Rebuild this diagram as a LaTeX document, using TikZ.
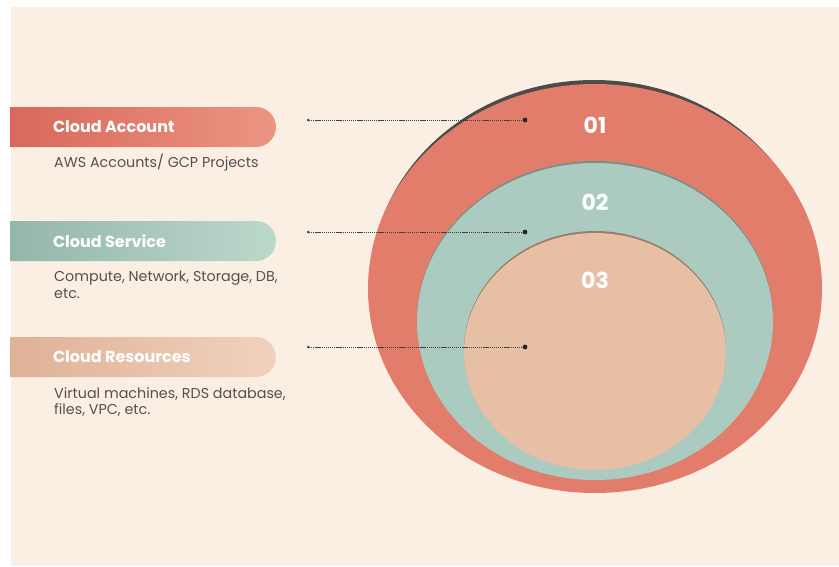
\documentclass[tikz,border=0pt]{standalone}
\usepackage{fontspec}
\setmainfont{Poppins}
\usetikzlibrary{positioning,arrows.meta,shapes.misc}
\definecolor{cream}{HTML}{FBEFE4}
\definecolor{coral}{HTML}{E27C6B}
\definecolor{coraldark}{HTML}{D8685B}
\definecolor{corallight}{HTML}{EC9583}
\definecolor{sage}{HTML}{ABCBC0}
\definecolor{sagedark}{HTML}{93B7AA}
\definecolor{sagelight}{HTML}{BCD8CC}
\definecolor{peach}{HTML}{E7BFA4}
\definecolor{peachdark}{HTML}{DFB196}
\definecolor{peachlight}{HTML}{F1D2BE}
\definecolor{subgray}{HTML}{555050}
\definecolor{rim}{HTML}{4E4B48}
\tikzset{
	pill/.style={rounded rectangle,rounded rectangle left arc=none,
		minimum width=266pt,minimum height=40pt,inner sep=0pt,shading=axis,shading angle=90},
	pilltext/.style={anchor=west,inner sep=0pt,text=white,font=\fontsize{16}{19}\selectfont\bfseries},
	subtext/.style={anchor=north west,inner sep=0pt,align=left,text=subgray,
		font=\fontsize{14.3}{16.5}\selectfont},
	layernum/.style={inner sep=0pt,text=white,font=\fontsize{22}{25}\selectfont\bfseries},
	leader/.style={dash pattern=on 1.3pt off 0.8pt,black!75,line width=1pt,{Circle[length=2.4pt]}-},
	dot/.style={circle,fill=black!85,inner sep=0pt,minimum size=4.8pt}
}

\begin{document}
\begin{tikzpicture}[x=1pt,y=-1pt]
	\useasboundingbox (0,0) rectangle (839,566);
	\fill[white] (0,0) rectangle (839,566);
	\fill[cream] (11,7) rectangle (839,566);
	
	% rings
	\fill[rim] (594,285) ellipse [x radius=224,y radius=205];
	\fill[coral] (595,288.5) ellipse [x radius=227,y radius=204.5];
	\fill[sagedark!80!black] (595,320) ellipse [x radius=178,y radius=159];
	\fill[sage] (595,321.5) ellipse [x radius=178,y radius=158.5];
	\fill[peachdark!70!black] (595,350) ellipse [x radius=131,y radius=119];
	\fill[peach] (595,351.5) ellipse [x radius=131,y radius=118.5];
	
	\node[layernum] (n1) at (595,125) {01};
	\node[layernum] (n2) at (595,202) {02};
	\node[layernum] (n3) at (595,280) {03};
	
	% labels on the left
	\node[pill,left color=coraldark,right color=corallight] (account) at (143,127) {};
	\node[pill,left color=sagedark,right color=sagelight] (service) at (143,241) {};
	\node[pill,left color=peachdark,right color=peachlight] (resources) at (143,357) {};
	
	\node[pilltext] (accounttitle) [right=43pt of account.west] {Cloud Account};
	\node[pilltext] (servicetitle) [right=43pt of service.west] {Cloud Service};
	\node[pilltext] (resourcestitle) [right=43pt of resources.west] {Cloud Resources};
	
	\node[subtext] (accountsub) at (54,154) {AWS Accounts/ GCP Projects};
	\node[subtext] (servicesub) at (54,271) {Compute, Network, Storage, DB,\\etc.};
	\node[subtext] (resourcessub) at (54,387) {Virtual machines, RDS database,\\files, VPC, etc.};
	
	% leaders
	\coordinate (s1) at (307,120);
	\coordinate (s2) at (307,232);
	\coordinate (s3) at (307,347);
	\node[dot] (d1) at (525,120) {};
	\node[dot] (d2) at (525,232) {};
	\node[dot] (d3) at (525,347) {};
	\draw[leader] (s1) -- (d1);
	\draw[leader] (s2) -- (d2);
	\draw[leader] (s3) -- (d3);
	
\end{tikzpicture}
\end{document}
